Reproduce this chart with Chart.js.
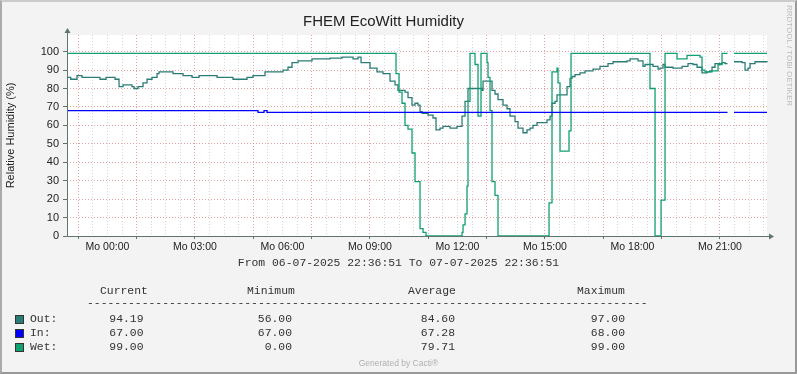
<!DOCTYPE html>
<html>
<head>
<meta charset="utf-8">
<title>FHEM EcoWitt Humidity</title>
<script src="https://cdn.jsdelivr.net/npm/chart.js@4.4.1/dist/chart.umd.min.js"></script>
<style>
  html, body { margin: 0; padding: 0; }
  body { position: relative; width: 797px; height: 374px; overflow: hidden; background: #f3f3f3; font-family: 'Liberation Sans', Arial, sans-serif; }
  #humidity-chart { position: absolute; left: 0; top: 0; }
  #frame { position: absolute; left: 0; top: 0; width: 797px; height: 374px; box-sizing: border-box; border: 2px solid; border-color: #cbcbcb #999999 #999999 #aaaaaa; pointer-events: none; }
  .txt { position: absolute; white-space: pre; line-height: 14px; }
  .mono { font-family: 'Liberation Mono', 'Courier New', monospace; font-size: 11.4px; color: #333; }
  .swatch { position: absolute; width: 7px; height: 7px; border: 1px solid #333; }
  #period { left: 0; width: 797px; top: 256px; text-align: center; }
  #cacti { left: 0; width: 797px; top: 358px; line-height: 10px; text-align: center; font-size: 8.5px; color: #b0b0b0; }
  #rrd { left: 794px; top: 5px; line-height: 9px; font-size: 8px; color: #bbbbbb; transform: rotate(90deg); transform-origin: left top; }
</style>
</head>
<body>
<canvas id="humidity-chart" width="797" height="374"></canvas>
<div id="period" class="txt mono">From 06-07-2025 22:36:51 To 07-07-2025 22:36:51</div>
<div id="legend"></div>
<div id="cacti" class="txt">Generated by Cacti®</div>
<div id="rrd" class="txt">RRDTOOL / TOBI OETIKER</div>
<div id="frame"></div>
<script>
// time in hours relative to Mo 00:00 (window runs 06-07 22:36:51 .. 07-07 22:36:51)
var startHour = -1.386;
var endHour = 22.614;

// Out
var outHours = [-1.386, -1.258, -1.042, -0.871, -0.254, -0.048, 0.261, 0.398, 0.535, 0.843, 0.912, 1.049,
  1.221, 1.358, 1.529, 1.701, 1.769, 2.249, 2.592, 2.901, 3.141, 3.758, 4.306, 4.786, 4.992, 5.403, 6.021,
  6.192, 6.329, 6.535, 7.015, 7.632, 8.043, 8.421, 8.592, 8.695, 9.003, 9.243, 9.449, 9.689, 9.861, 9.963,
  10.203, 10.306, 10.443, 10.546, 10.649, 10.718, 10.786, 10.992, 11.163, 11.266, 11.403, 11.506, 11.746,
  11.986, 12.158, 12.261, 12.363, 12.843, 12.878, 13.186, 13.289, 13.392, 13.563, 13.700, 13.803, 13.975,
  14.078, 14.249, 14.386, 14.489, 14.592, 14.729, 15.072, 15.175, 15.243, 15.346, 15.415, 15.758, 15.861,
  15.929, 16.032, 16.203, 16.375, 16.649, 16.889, 17.163, 17.335, 17.815, 17.918, 18.192, 18.363, 18.432,
  18.706, 18.878, 18.946, 19.049, 19.118, 19.392, 19.701, 19.906, 20.078, 20.215, 20.386, 20.558, 20.661,
  20.729, 20.832, 21.072, 21.175, 21.261, 21.278, 21.483, 21.758, 21.861, 21.963, 22.032, 22.203, 22.614];
var outValues = [86, 85, 87, 86, 85, 86, 85, 81, 82, 81, 80, 81,
  83, 85, 86, 88, 89, 88, 87, 86, 87, 86, 85, 86, 87, 89, 90,
  91.5, 94, 95, 96, 96.5, 97, 96, 97, 94, 91, 89, 88, 84, 82, 79,
  78, 75, 71, 72, 71, 67.5, 66.5, 65.5, 64, 57.5, 58.5, 59.5, 58.5,
  59.5, 65, 73, 80, 79, 84, 79, 77, 74, 71, 69, 65, 62,
  58.5, 56, 57.5, 58.5, 60, 61.5, 63, 65, 72, 73, 76.5, 81, 85.5,
  86.5, 87.5, 88.5, 89.5, 90.5, 92, 93.5, 94.5, 95, 96, 95, 92, 93,
  92, 90.5, 91, 93, 91.5, 91, 92, 93.5, 93, 91.5, 88.5, 89, 89.5,
  91.5, 93.5, 94, 93.5, 93.5, null, 94.5, 94, 90, 91, 93.5, 94.5, 94.2];

// In
var inHours = [-1.386, 5.163, 5.369, 5.472, 21.261, 21.278, 21.483, 22.614];
var inValues = [68, 67, 68, 67, 67, null, 67, 67];

// Wet
var wetHours = [-1.386, 9.895, 9.998, 10.101, 10.203, 10.306, 10.443, 10.546, 10.718, 10.821, 10.923,
  12.158, 12.192, 12.261, 12.329, 12.363, 12.432, 12.603, 12.706, 12.809, 13.015, 13.049, 13.118, 13.186,
  13.289, 13.392, 15.141, 15.243, 15.415, 15.449, 15.518, 15.826, 15.895, 18.603, 18.775, 18.981, 19.118,
  19.529, 19.872, 20.318, 20.386, 20.489, 20.729, 20.935, 21.072, 21.261, 21.278, 21.483, 22.614];
var wetValues = [99, 88, 78, 72, 60, 58, 45, 29.5, 4, 2, 0,
  2, 6, 12, 27, 73, 99, 93, 65, 99, 94, 86, 68, 29.5,
  22, 0, 18, 89, 91, 83, 46, 57, 99, 80, 0, 19.5, 99,
  96, 98, 97, 90, 89, 89.5, 93, 99, 99, null, 99, 99];

// legend block
var seriesNames = ['Out', 'In', 'Wet'];
var seriesColors = ['#2b7c77', '#0000ff', '#11a072'];
var statHeaders = ['Current', 'Minimum', 'Average', 'Maximum'];
var statCurrent = [94.19, 67.00, 99.00];
var statMinimum = [56.00, 67.00, 0.00];
var statAverage = [84.60, 67.28, 79.71];
var statMaximum = [97.00, 68.00, 99.00];

var axisColor = '#5f746c';
var majorGrid = '#e6a3a3';
var minorGrid = '#d6d6d6';

function points(hours, values) {
  return hours.map(function (h, i) { return { x: h, y: values[i] }; });
}

function isOddHour(v) {
  return Number.isInteger(v) && Math.abs(v % 2) === 1;
}

Chart.defaults.font.family = "'Liberation Sans', Arial, sans-serif";
Chart.defaults.color = '#222';

// white plot area, rrd style axes with arrows
var rrdAxes = {
  id: 'rrdAxes',
  beforeDraw: function (chart) {
    var a = chart.chartArea, ctx = chart.ctx;
    ctx.save();
    ctx.fillStyle = '#ffffff';
    ctx.fillRect(a.left, a.top, a.right - a.left, a.bottom - a.top);
    ctx.restore();
  },
  afterDatasetsDraw: function (chart) {
    var a = chart.chartArea, ctx = chart.ctx;
    var x0 = Math.round(a.left) + 0.5, y0 = Math.round(a.bottom) + 0.5;
    ctx.save();
    ctx.strokeStyle = axisColor;
    ctx.fillStyle = axisColor;
    ctx.lineWidth = 1;
    ctx.beginPath();
    ctx.moveTo(x0, y0);
    ctx.lineTo(x0, a.top - 3);
    ctx.moveTo(x0, y0);
    ctx.lineTo(a.right + 3, y0);
    ctx.stroke();
    ctx.beginPath();
    ctx.moveTo(x0, a.top - 7);
    ctx.lineTo(x0 - 3, a.top - 2);
    ctx.lineTo(x0 + 3, a.top - 2);
    ctx.closePath();
    ctx.fill();
    ctx.beginPath();
    ctx.moveTo(a.right + 7, y0);
    ctx.lineTo(a.right + 2, y0 - 3);
    ctx.lineTo(a.right + 2, y0 + 3);
    ctx.closePath();
    ctx.fill();
    ctx.restore();
  }
};

var lineStyle = { pointRadius: 0, borderWidth: 1.3, fill: false, stepped: true, spanGaps: false, clip: 3 };

var chart = new Chart(document.getElementById('humidity-chart'), {
  type: 'line',
  data: {
    datasets: [
      Object.assign({ label: 'In', data: points(inHours, inValues), borderColor: seriesColors[1] }, lineStyle),
      Object.assign({ label: 'Wet', data: points(wetHours, wetValues), borderColor: seriesColors[2] }, lineStyle),
      Object.assign({ label: 'Out', data: points(outHours, outValues), borderColor: seriesColors[0] }, lineStyle)
    ]
  },
  plugins: [rrdAxes],
  options: {
    responsive: false,
    devicePixelRatio: 1,
    animation: false,
    events: [],
    layout: { padding: { left: 0, right: 30, top: 0, bottom: 0 } },
    plugins: {
      legend: { display: false },
      tooltip: { enabled: false },
      title: {
        display: true,
        text: 'FHEM EcoWitt Humidity',
        color: '#222',
        font: { size: 15, weight: 'normal' },
        padding: { top: 13, bottom: 4 }
      }
    },
    scales: {
      x: {
        type: 'linear',
        min: startHour,
        max: endHour,
        afterBuildTicks: function (scale) {
          var t = [];
          for (var h = -1; h <= 22.5; h += 0.5) t.push({ value: h });
          scale.ticks = t;
        },
        afterFit: function (scale) { scale.height = 138; },
        border: { display: false, dash: [1, 2] },
        grid: {
          color: function (c) { return isOddHour(c.tick.value) ? majorGrid : minorGrid; },
          tickColor: function (c) { return isOddHour(c.tick.value) ? axisColor : 'rgba(0,0,0,0)'; },
          tickLength: 3,
          lineWidth: 1
        },
        ticks: {
          autoSkip: false,
          maxRotation: 0,
          minRotation: 0,
          padding: 2,
          color: '#222',
          font: { size: 10.5 },
          callback: function (v) {
            if (Number.isInteger(v) && v >= 0 && v % 3 === 0) {
              return 'Mo ' + String(v).padStart(2, '0') + ':00';
            }
            return '';
          }
        }
      },
      y: {
        min: 0,
        max: 109,
        afterBuildTicks: function (scale) {
          var t = [];
          for (var v = 0; v <= 105; v += 5) t.push({ value: v });
          scale.ticks = t;
        },
        afterFit: function (scale) { scale.width = 67; },
        border: { display: false, dash: [1, 2] },
        grid: {
          color: function (c) { return c.tick.value % 10 === 0 ? majorGrid : minorGrid; },
          tickColor: function (c) { return c.tick.value % 10 === 0 && c.tick.value <= 100 ? axisColor : 'rgba(0,0,0,0)'; },
          tickLength: 4,
          lineWidth: 1
        },
        ticks: {
          padding: 4,
          color: '#222',
          font: { size: 11 },
          callback: function (v) { return v % 10 === 0 && v <= 100 ? String(v) : ''; }
        },
        title: {
          display: true,
          text: 'Relative Humidity (%)',
          color: '#222',
          font: { size: 11 },
          padding: { top: 4, bottom: 0 }
        }
      }
    }
  }
});

// gprint style legend under the graph
var legend = document.getElementById('legend');
var headerLeft = [100, 247, 408, 577];
var valueRight = [143.5, 292, 455, 625];
var rowTop = [312, 325.5, 340];

function addText(text, left, top, right) {
  var d = document.createElement('div');
  d.className = 'txt mono';
  d.textContent = text;
  d.style.top = top + 'px';
  if (right !== undefined) {
    d.style.right = (797 - right) + 'px';
  } else {
    d.style.left = left + 'px';
  }
  legend.appendChild(d);
}

statHeaders.forEach(function (h, i) { addText(h, headerLeft[i], 284); });
addText('-'.repeat(82), 87, 296);

var statColumns = [statCurrent, statMinimum, statAverage, statMaximum];
seriesNames.forEach(function (name, r) {
  var sw = document.createElement('div');
  sw.className = 'swatch';
  sw.style.left = '15px';
  sw.style.top = (rowTop[r] + 3) + 'px';
  sw.style.background = seriesColors[r];
  legend.appendChild(sw);
  addText(name + ':', 30, rowTop[r]);
  statColumns.forEach(function (col, c) {
    addText(col[r].toFixed(2), null, rowTop[r], valueRight[c]);
  });
});
</script>
</body>
</html>
